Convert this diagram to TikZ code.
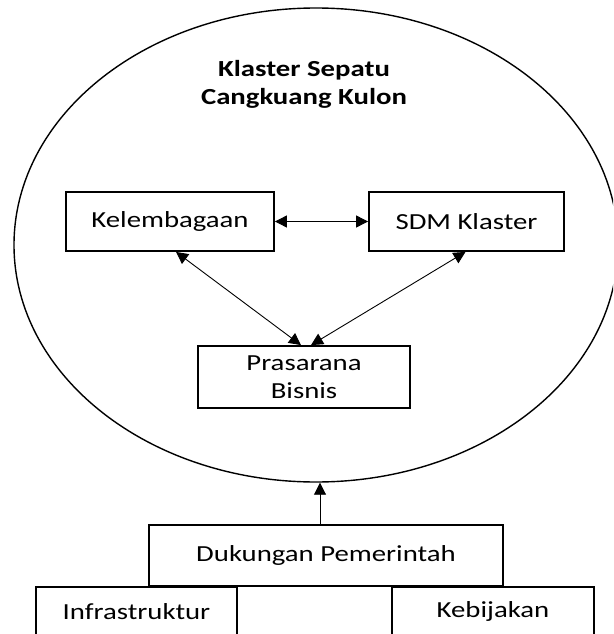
\documentclass[tikz,border=0pt]{standalone}
\usepackage{fontspec}
\setmainfont{Carlito}[FakeStretch=1.25]
\usetikzlibrary{arrows.meta,shapes.geometric}
\tikzset{
  box/.style={draw, line width=1.8pt, inner sep=0pt, align=center, font=\fontsize{23}{28}\selectfont},
  link/.style={line width=0.9pt, {Triangle[length=12pt,width=12pt]}-{Triangle[length=12pt,width=12pt]}},
  uplink/.style={line width=0.9pt, -{Triangle[length=12pt,width=12pt]}}
}
\begin{document}
\begin{tikzpicture}[x=1pt,y=-1pt]
\useasboundingbox (0,0) rectangle (613,634);
\clip (0,0) rectangle (613,634);
\fill[white] (0,0) rectangle (613,634);
\node[ellipse, draw, line width=1.4pt, minimum width=604pt, minimum height=474pt, inner sep=0pt] (circ) at (316,245) {};
\node[align=center, inner sep=0pt, font=\fontsize{23}{28}\selectfont\bfseries] (title) at (304,84) {Klaster Sepatu\\Cangkuang Kulon};
\node[box, minimum width=208pt, minimum height=59pt] (kel) at (170,221.5) {Kelembagaan};
\node[box, minimum width=195pt, minimum height=59pt] (sdm) at (466.5,221.5) {SDM Klaster};
\node[box, minimum width=212pt, minimum height=62pt] (pras) at (304,377) {Prasarana\\Bisnis};
\node[box, minimum width=354pt, minimum height=61pt] (duk) at (326,555.5) {Dukungan Pemerintah};
\node[box, minimum width=201pt, minimum height=49pt] (infra) at (136.5,611.5) {Infrastruktur};
\node[box, minimum width=202pt, minimum height=49pt] (kebi) at (493,611.5) {Kebijakan};
\draw[link] (kel.east) -- (sdm.west);
\draw[link] ([xshift=-3pt]pras.north) -- ([xshift=6pt]kel.south);
\draw[link] ([xshift=7pt]pras.north) -- ([xshift=-1pt]sdm.south);
\draw[uplink] ([xshift=-6pt]duk.north) -- ([xshift=-6pt]duk.north |- circ.south);
\end{tikzpicture}
\end{document}
